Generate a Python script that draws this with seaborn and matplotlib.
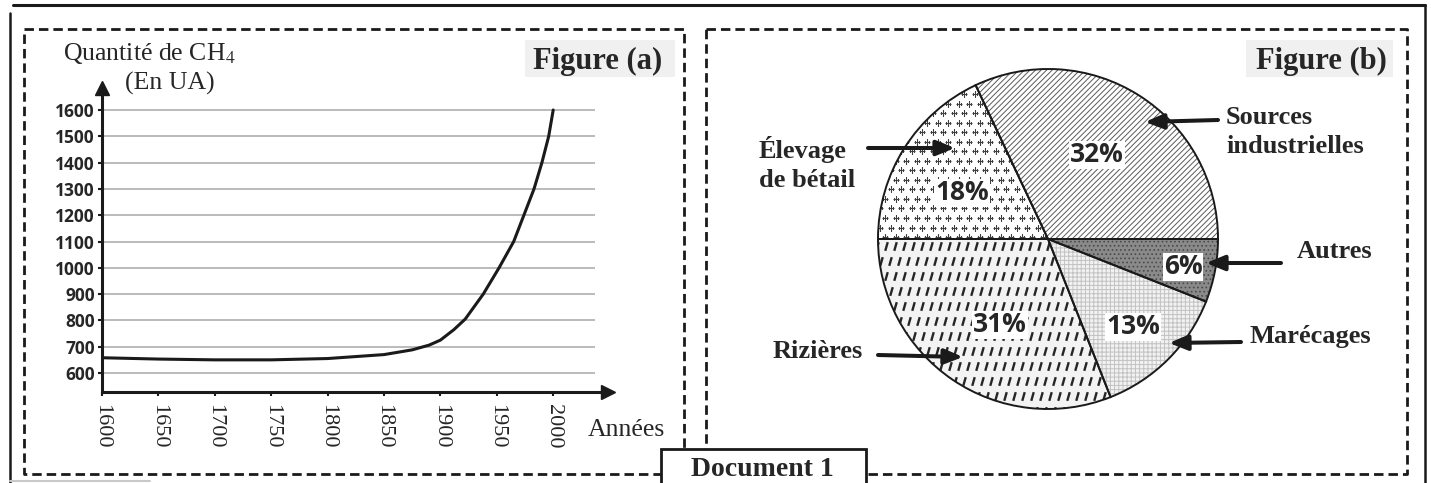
import numpy as np
import matplotlib.pyplot as plt
import seaborn as sns
from matplotlib.patches import Rectangle
from matplotlib.lines import Line2D
from matplotlib.markers import MarkerStyle
from matplotlib.transforms import Affine2D

# Figure (a): methane amount
years = [1600, 1650, 1700, 1750, 1800, 1850, 1875, 1890, 1900, 1912, 1922, 1938, 1952, 1965, 1974, 1983, 1990, 1996, 2000]
ch4 = [658, 653, 650, 650, 655, 670, 688, 706, 725, 765, 805, 900, 1000, 1100, 1200, 1300, 1400, 1500, 1600]
y_ticks = [600, 700, 800, 900, 1000, 1100, 1200, 1300, 1400, 1500, 1600]
x_ticks = [1600, 1650, 1700, 1750, 1800, 1850, 1900, 1950, 2000]

# Figure (b): methane sources (clockwise from 3 o'clock)
sources = ["Autres", "Marécages", "Rizières", "Élevage de bétail", "Sources industrielles"]
shares = [6, 13, 31, 18, 32]
source_labels = ["Autres", "Marécages", "Rizières", "Élevage\nde bétail", "Sources\nindustrielles"]

W, H = 1431, 483
sns.set_theme(style="white")
plt.rcParams["font.family"] = ["Liberation Serif", "DejaVu Serif"]
plt.rcParams["mathtext.fontset"] = "stix"
plt.rcParams["hatch.linewidth"] = 0.7

fig = plt.figure(figsize=(W / 100, H / 100), dpi=100)


def fx(x):
    return x / W


def fy(y):
    return 1 - y / H


def box(l, t, r, b):
    return [fx(l), fy(b), (r - l) / W, (b - t) / H]


def fline(xs, ys, **kw):
    fig.add_artist(Line2D([fx(x) for x in xs], [fy(y) for y in ys], **kw))


# page frame and dashed boxes
fline([13, 1425], [5, 5], color="k", lw=2.2)
fline([10, 10], [13, 483], color="k", lw=1.8)
fline([1425, 1425], [5, 483], color="k", lw=1.8)
fline([10, 150], [481, 481], color="#c8c8c8", lw=1.5)
dash = dict(color="k", lw=2.0, ls=(0, (3.4, 1.8)))
fline([24, 684, 684, 24, 24], [29, 29, 474, 474, 29], **dash)
fline([706, 1407, 1407, 706, 706], [29, 29, 474, 474, 29], **dash)

# ---- Figure (a) ----
ax = fig.add_axes(box(102, 88, 608, 392))
ax.set_xlim(1600, 1600 + (608 - 102) / 1.128)
ax.set_ylim(600 - (392 - 373) / 0.263, 600 + (373 - 88) / 0.263)
ax.hlines(y_ticks, 1600, 2037, color="#a8a8a8", lw=1.1, zorder=0)
sns.lineplot(x=years, y=ch4, ax=ax, color="k", lw=2.2)
for s in ["top", "right"]:
    ax.spines[s].set_visible(False)
for s in ["left", "bottom"]:
    ax.spines[s].set_color("k")
    ax.spines[s].set_linewidth(2.2)
ax.plot([0], [1], marker="^", ms=10, color="k", transform=ax.transAxes, clip_on=False)
ax.plot([1], [0], marker=">", ms=10, color="k", transform=ax.transAxes, clip_on=False)
ax.tick_params(bottom=True, left=True, direction="out", length=3, width=1.5, color="k")
ax.set_yticks(y_ticks, labels=[str(v) for v in y_ticks], fontfamily="Open Sans",
              fontweight="bold", fontsize=12.5)
ax.set_xticks(x_ticks, labels=[str(v) for v in x_ticks], rotation=-90, fontsize=16,
              va="top", ha="center")
ax.tick_params(axis="y", pad=2)
ax.tick_params(axis="x", pad=6)
ax.set_xlabel("")
ax.set_ylabel("")

fig.text(fx(63), fy(53), "Quantité de CH$_4$", fontsize=18.5, va="center", ha="left")
fig.text(fx(125), fy(83), "(En UA)", fontsize=18.5, va="center", ha="left")
fig.text(fx(588), fy(436), "Années", fontsize=18.5, va="baseline", ha="left")

fig.add_artist(Rectangle((fx(525), fy(77)), 150 / W, 37 / H, transform=fig.transFigure,
                         facecolor="#f0f0f0", edgecolor="none"))
fig.text(fx(598), fy(69), "Figure (a)", fontsize=22, fontweight="bold", ha="center", va="baseline")
fig.add_artist(Rectangle((fx(1246), fy(77)), 147 / W, 37 / H, transform=fig.transFigure,
                         facecolor="#f0f0f0", edgecolor="none"))
fig.text(fx(1321), fy(69), "Figure (b)", fontsize=22, fontweight="bold", ha="center", va="baseline")

# ---- Figure (b) ----
cx, cy, r = 1048, 239, 170
ax2 = fig.add_axes(box(cx - 180, cy - 180, cx + 180, cy + 180))
face_cols = ["#8a8a8a", "#f2f2f2", "#f3f3f3", "white", "white"]
hatch_cols = ["#4a4a4a", "#c2c2c2", "#f3f3f3", "white", "#5a5a5a"]
hatches = ["....", "++++", None, None, "//////"]
wedges, _ = ax2.pie(shares, startangle=0, counterclock=False, colors=face_cols,
                    wedgeprops=dict(linewidth=0))
for w, h, hc in zip(wedges, hatches, hatch_cols):
    if h:
        w.set_hatch(h)
        w.set_edgecolor(hc)

# plus texture for livestock
sx, sy = 10.5 / r, 9.5 / r
gx, gy = np.meshgrid(np.arange(-1.05, 1.05, sx), np.arange(-1.05, 1.05, sy))
gx = gx + (np.arange(gx.shape[0])[:, None] % 2) * sx / 2
pl = ax2.scatter(gx.ravel(), gy.ravel(), marker="+", s=22, linewidths=0.8, color="#404040")
pl.set_clip_path(wedges[3])

# slanted dash texture for rice fields
dx, dy = 9 / r, 15 / r
hx, hy = np.meshgrid(np.arange(-1.1, 1.1, dx), np.arange(-1.1, 1.1, dy))
hx = hx + (np.arange(hx.shape[0])[:, None] * dy * np.tan(np.radians(16))) % dx
dash_mark = MarkerStyle("|", transform=Affine2D().rotate_deg(-16))
rz = ax2.scatter(hx.ravel(), hy.ravel(), marker=dash_mark, s=42, linewidths=1.7, color="#262626")
rz.set_clip_path(wedges[2])

ax2.pie(shares, startangle=0, counterclock=False, colors=["none"] * len(shares),
        wedgeprops=dict(edgecolor="k", linewidth=1.4))
lim = 180 / r
ax2.set_xlim(-lim, lim)
ax2.set_ylim(-lim, lim)
ax2.set_aspect("equal")
ax2.axis("off")

pct_pos = [(1183, 267), (1133, 327), (1000, 325), (962, 193), (1097, 155)]
for v, (px, py) in zip(shares, pct_pos):
    fig.text(fx(px), fy(py), f"{v}%", fontfamily="Open Sans", fontweight="bold", fontsize=19,
             ha="center", va="center", bbox=dict(facecolor="white", edgecolor="none", pad=0.5))

label_pos = [(1297, 252), (1249, 337), (773, 352), (759, 164), (1226, 132)]
for lab, (px, py) in zip(source_labels, label_pos):
    fig.text(fx(px), fy(py), lab, fontsize=19, fontweight="bold", ha="left", va="center",
             linespacing=1.3)

arrows = [((1281, 263), (1206, 263)), ((1241, 342), (1169, 343)), ((878, 355), (963, 357)),
          ((868, 148), (955, 148)), ((1218, 120), (1145, 122))]
for (tx, ty), (hx_, hy_) in arrows:
    ax2.annotate("", xy=(fx(hx_), fy(hy_)), xycoords="figure fraction",
                 xytext=(fx(tx), fy(ty)), textcoords="figure fraction",
                 arrowprops=dict(arrowstyle="-|>,head_length=1.1,head_width=0.45", lw=2.9,
                                 color="k", shrinkA=0, shrinkB=0, mutation_scale=10),
                 annotation_clip=False)

# Document 1 tab
fig.add_artist(Rectangle((fx(661), fy(495)), 205 / W, 46 / H, transform=fig.transFigure,
                         facecolor="white", edgecolor="k", lw=2, zorder=4))
fig.text(fx(762), fy(482), "Document 1", fontsize=20, fontweight="bold", ha="center",
         va="bottom", zorder=5)

fig.savefig("out.png", dpi=100)
